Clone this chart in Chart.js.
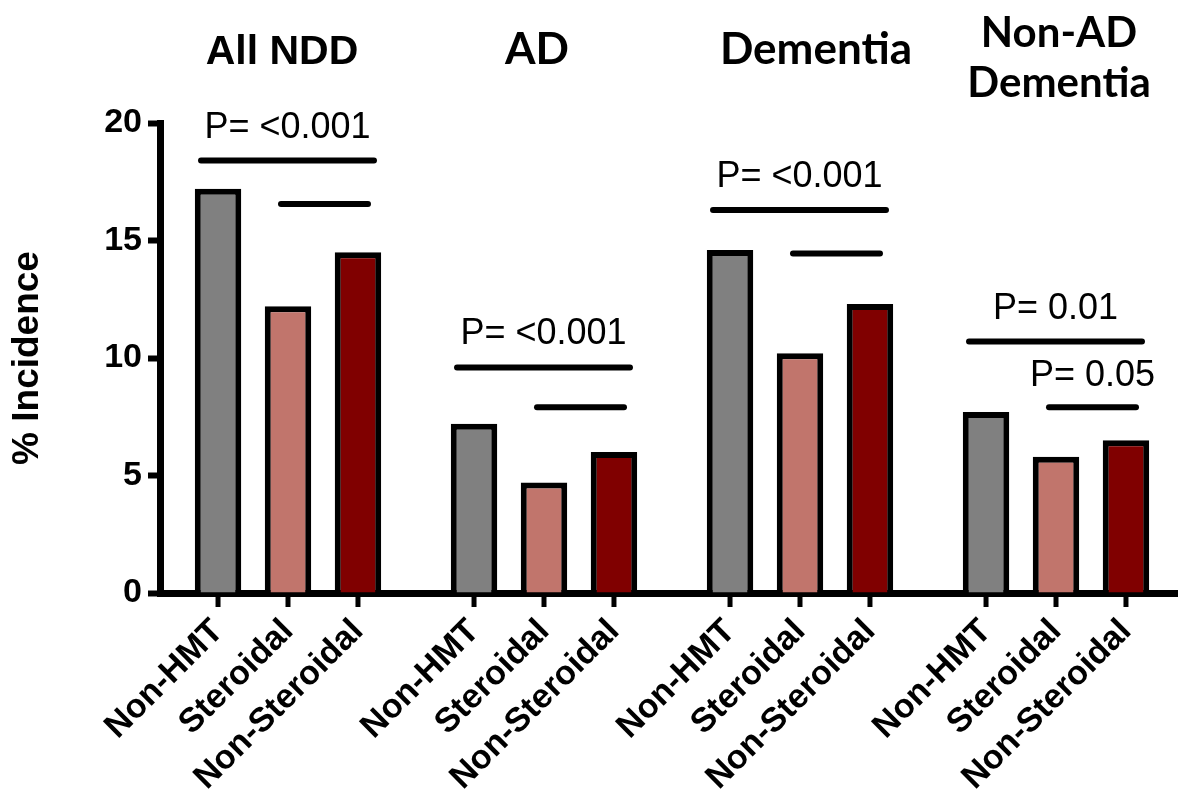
<!DOCTYPE html>
<html>
<head>
<meta charset="utf-8">
<title>% Incidence by HMT type</title>
<script src="https://cdn.jsdelivr.net/npm/chart.js@4/dist/chart.umd.min.js"></script>
<style>
    html, body { margin: 0; padding: 0; background: #fff; overflow: hidden; }
    #wrap { width: 1178px; height: 802px; overflow: hidden; }
</style>
</head>
<body>
<div id="wrap"><canvas id="incidenceChart" width="1184" height="802"></canvas></div>
<script>
// Dados do gráfico
const groups = [['All NDD'], ['AD'], ['Dementia'], ['Non-AD', 'Dementia']];
const series = ['Non-HMT', 'Steroidal', 'Non-Steroidal'];
const nonHmt = [17.2, 7.2, 14.6, 7.7];
const steroidal = [12.2, 4.7, 10.2, 5.8];
const nonSteroidal = [14.5, 6.0, 12.3, 6.5];
const yTicks = [0, 5, 10, 15, 20];

// Barras de significância (altura em % e rótulo)
const sigTop = [18.4, 9.6, 16.3, 10.7];
const pTop = ['P= <0.001', 'P= <0.001', 'P= <0.001', 'P= 0.01'];
const sigLow = [16.55, 7.9, 14.45, 7.9];
const pLow = ['', '', '', 'P= 0.05'];

// Estilos
const colors = ['#808080', '#C1756C', '#800000'];
const titleFonts = ['bold 41px "Liberation Sans", Arial, sans-serif',
    'bold 44px Lato, sans-serif', 'bold 44px Lato, sans-serif', 'bold 42px Lato, sans-serif'];
const titleNudge = [-6, -7, 16, 3];

const annotationsPlugin = {
    id: 'annotations',
    afterDraw(chart) {
        const ctx = chart.ctx;
        const xScale = chart.scales.x;
        const yScale = chart.scales.y;
        const bottom = chart.chartArea.bottom;
        const metas = series.map((s, d) => chart.getDatasetMeta(d));

        ctx.save();
        ctx.fillStyle = '#000';
        ctx.strokeStyle = '#000';

        // Títulos dos grupos
        groups.forEach((lines, i) => {
            const cx = xScale.getPixelForValue(i) + titleNudge[i];
            ctx.font = titleFonts[i];
            ctx.textAlign = 'center';
            ctx.textBaseline = 'alphabetic';
            if (lines.length === 1) {
                ctx.fillText(lines[0], cx, 64);
            } else {
                lines.forEach((t, k) => ctx.fillText(t, cx, 47 + k * 50));
            }
        });

        // Linhas de significância
        ctx.lineCap = 'round';
        ctx.lineWidth = 6;
        ctx.font = '36px "Liberation Sans", Arial, sans-serif';
        ctx.textAlign = 'center';
        ctx.textBaseline = 'alphabetic';
        groups.forEach((g, i) => {
            const x0 = metas[0].data[i].x;
            const x1 = metas[1].data[i].x;
            const x2 = metas[2].data[i].x;

            const yT = yScale.getPixelForValue(sigTop[i]);
            ctx.beginPath();
            ctx.moveTo(x0 - 17, yT);
            ctx.lineTo(x2 + 16, yT);
            ctx.stroke();
            if (pTop[i]) ctx.fillText(pTop[i], (x0 - 17 + x2 + 16) / 2, yT - 23);

            const yL = yScale.getPixelForValue(sigLow[i]);
            ctx.beginPath();
            ctx.moveTo(x1 - 7, yL);
            ctx.lineTo(x2 + 10, yL);
            ctx.stroke();
            if (pLow[i]) ctx.fillText(pLow[i], (x1 - 7 + x2 + 10) / 2, yL - 21);
        });

        // Marcas e rótulos do eixo x
        ctx.lineCap = 'butt';
        ctx.lineWidth = 5;
        ctx.font = 'bold 34px "Liberation Sans", Arial, sans-serif';
        ctx.textAlign = 'right';
        ctx.textBaseline = 'middle';
        metas.forEach((meta, d) => {
            meta.data.forEach(bar => {
                ctx.beginPath();
                ctx.moveTo(bar.x, bottom);
                ctx.lineTo(bar.x, bottom + 14);
                ctx.stroke();

                ctx.save();
                ctx.translate(bar.x, bottom + 33);
                ctx.rotate(-Math.PI / 4);
                ctx.fillText(series[d], 0, 0);
                ctx.restore();
            });
        });
        ctx.restore();
    }
};

const chartData = {
    labels: groups,
    datasets: [nonHmt, steroidal, nonSteroidal].map((values, d) => ({
        label: series[d],
        data: values,
        backgroundColor: colors[d],
        borderColor: '#000',
        borderWidth: 6,
        barPercentage: 0.664,
        categoryPercentage: 0.82
    }))
};

new Chart(document.getElementById('incidenceChart'), {
    type: 'bar',
    data: chartData,
    options: {
        responsive: false,
        animation: false,
        devicePixelRatio: 1,
        layout: { padding: { top: 123, left: 0, right: 0, bottom: 0 } },
        plugins: {
            legend: { display: false },
            tooltip: { enabled: false }
        },
        scales: {
            x: {
                type: 'category',
                ticks: { display: false },
                grid: { display: true, drawOnChartArea: false, drawTicks: false },
                border: { display: true, width: 7, color: '#000' },
                afterFit: scale => { scale.height = 209; }
            },
            y: {
                min: 0,
                max: 20,
                afterBuildTicks: scale => { scale.ticks = yTicks.map(v => ({ value: v })); },
                ticks: {
                    color: '#000',
                    padding: 6,
                    font: { family: '"Liberation Sans", Arial, sans-serif', size: 34, weight: 'bold' }
                },
                grid: {
                    display: true,
                    drawOnChartArea: false,
                    drawTicks: true,
                    tickLength: 12,
                    tickWidth: 6,
                    tickColor: '#000',
                    color: '#000'
                },
                border: { display: true, width: 7, color: '#000' },
                title: {
                    display: true,
                    text: '% Incidence',
                    color: '#000',
                    padding: { top: 6, bottom: 0 },
                    font: { family: '"Liberation Sans", Arial, sans-serif', size: 37, weight: 'bold' }
                },
                afterFit: scale => { scale.width = 160; }
            }
        }
    },
    plugins: [annotationsPlugin]
});
</script>
</body>
</html>
